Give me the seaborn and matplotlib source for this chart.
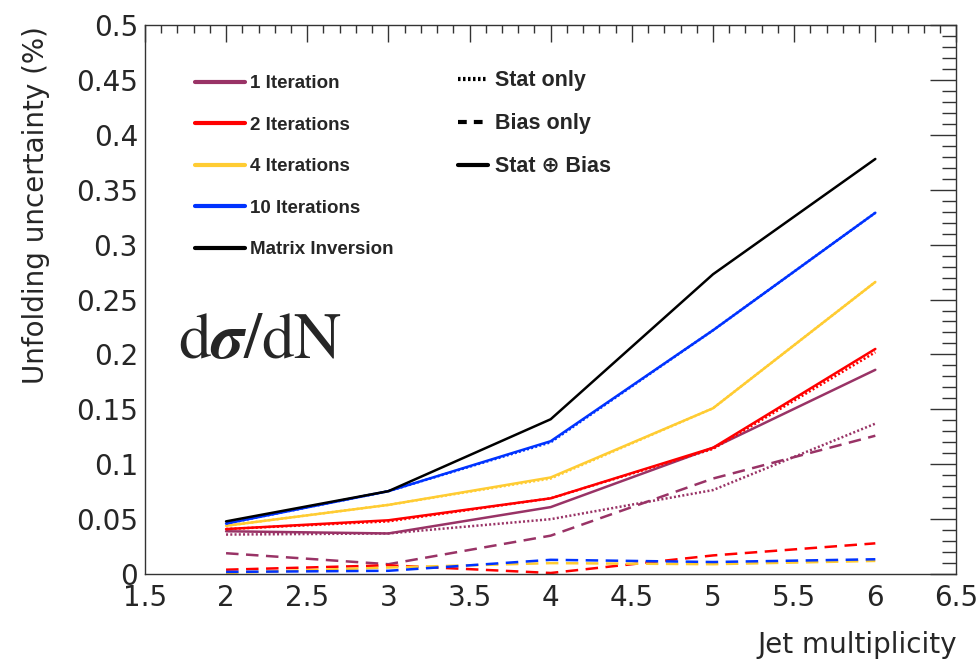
import pandas as pd
import seaborn as sns
import matplotlib.pyplot as plt
from matplotlib.lines import Line2D
from matplotlib.ticker import MultipleLocator, FuncFormatter

# Valeurs
jets = [2, 3, 4, 5, 6]
methods = ['1 Iteration', '2 Iterations', '4 Iterations', '10 Iterations', 'Matrix Inversion']
colors = ['#993366', '#ff0000', '#ffcc33', '#0033ff', '#000000']

total_1 = [0.039, 0.037, 0.061, 0.115, 0.186]
total_2 = [0.041, 0.049, 0.069, 0.115, 0.205]
total_4 = [0.044, 0.063, 0.088, 0.151, 0.266]
total_10 = [0.046, 0.0755, 0.121, 0.222, 0.329]
total_inv = [0.048, 0.0755, 0.141, 0.273, 0.378]

stat_1 = [0.036, 0.037, 0.050, 0.0765, 0.137]
stat_2 = [0.041, 0.048, 0.069, 0.114, 0.202]
stat_4 = [0.044, 0.063, 0.087, 0.151, 0.266]
stat_10 = [0.046, 0.0755, 0.120, 0.222, 0.329]

bias_1 = [0.019, 0.009, 0.035, 0.087, 0.126]
bias_2 = [0.004, 0.008, 0.001, 0.017, 0.028]
bias_4 = [0.001, 0.006, 0.010, 0.009, 0.012]
bias_10 = [0.002, 0.003, 0.013, 0.011, 0.0135]

components = ['Stat only', 'Bias only', 'Stat \u2295 Bias']

series = {
    ('1 Iteration', 'Stat \u2295 Bias'): total_1,
    ('2 Iterations', 'Stat \u2295 Bias'): total_2,
    ('4 Iterations', 'Stat \u2295 Bias'): total_4,
    ('10 Iterations', 'Stat \u2295 Bias'): total_10,
    ('Matrix Inversion', 'Stat \u2295 Bias'): total_inv,
    ('1 Iteration', 'Stat only'): stat_1,
    ('2 Iterations', 'Stat only'): stat_2,
    ('4 Iterations', 'Stat only'): stat_4,
    ('10 Iterations', 'Stat only'): stat_10,
    ('1 Iteration', 'Bias only'): bias_1,
    ('2 Iterations', 'Bias only'): bias_2,
    ('4 Iterations', 'Bias only'): bias_4,
    ('10 Iterations', 'Bias only'): bias_10,
}

rows = []
for (m, c), vals in series.items():
    for x, v in zip(jets, vals):
        rows.append({'jets': x, 'unc': v, 'method': m, 'component': c})
df = pd.DataFrame(rows)

sns.set_style('white')
plt.rcParams['font.family'] = ['DejaVu Sans']
plt.rcParams['mathtext.fontset'] = 'stix'

fig = plt.figure(figsize=(9.79, 6.66), dpi=100)
ax = fig.add_axes([0.148, 0.138, 0.829, 0.8245])

palette = dict(zip(methods, colors))
dashes = {'Stat \u2295 Bias': '', 'Stat only': (0.8, 0.9), 'Bias only': (5, 3)}

sns.lineplot(data=df, x='jets', y='unc', hue='method', style='component',
             hue_order=methods, style_order=components, palette=palette,
             dashes=dashes, lw=1.8, errorbar=None, legend=False, ax=ax)

ax.set_xlim(1.5, 6.5)
ax.set_ylim(0, 0.5)
ax.xaxis.set_major_locator(MultipleLocator(0.5))
ax.xaxis.set_minor_locator(MultipleLocator(0.1))
ax.yaxis.set_major_locator(MultipleLocator(0.05))
ax.yaxis.set_minor_locator(MultipleLocator(0.01))
fmt = FuncFormatter(lambda v, p: '%g' % round(v, 3))
ax.xaxis.set_major_formatter(fmt)
ax.yaxis.set_major_formatter(fmt)
ax.tick_params(which='both', direction='in', top=True, right=True, labelsize=20,
               color='#333333', width=1)
ax.tick_params(axis='y', which='major', length=18.5, pad=5)
ax.tick_params(axis='y', which='minor', length=10)
ax.tick_params(axis='x', which='major', length=12, pad=7)
ax.tick_params(axis='x', which='minor', length=6)
for s in ax.spines.values():
    s.set_color('#333333')
    s.set_linewidth(1)

ax.set_xlabel('Jet multiplicity', fontsize=20, loc='right')
ax.xaxis.set_label_coords(1.0, -0.103)
ax.set_ylabel('Unfolding uncertainty (%)', fontsize=20, loc='top')
ax.yaxis.set_label_coords(-0.117, 0.997)

ax.text(0.041, 0.393, r'$\mathrm{d}\boldsymbol{\sigma}/\mathrm{dN}$', transform=ax.transAxes,
        fontsize=47, va='baseline', ha='left')

# Legendes
h1 = [Line2D([], [], color=c, lw=3) for c in colors]
leg1 = ax.legend(h1, methods, loc='upper left', bbox_to_anchor=(0.0617, 0.909),
                 frameon=False, prop={'family': 'Liberation Sans', 'size': 13.5, 'weight': 'bold'},
                 handlelength=2.67, handletextpad=0.27, labelspacing=1.3,
                 borderpad=0, borderaxespad=0)
ax.add_artist(leg1)
h2 = [Line2D([], [], color='k', lw=3, ls=ls) for ls in [(0, (0.6, 0.6)), (0, (2.1, 1.7)), '-']]
ax.legend(h2, components, loc='upper left', bbox_to_anchor=(0.386, 0.9176),
          frameon=False, prop={'family': ['Liberation Sans', 'DejaVu Sans'], 'size': 15.5, 'weight': 'bold'},
          handlelength=1.39, handletextpad=0.33, labelspacing=1.02,
          borderpad=0, borderaxespad=0)

fig.savefig('out.png', dpi=100)
